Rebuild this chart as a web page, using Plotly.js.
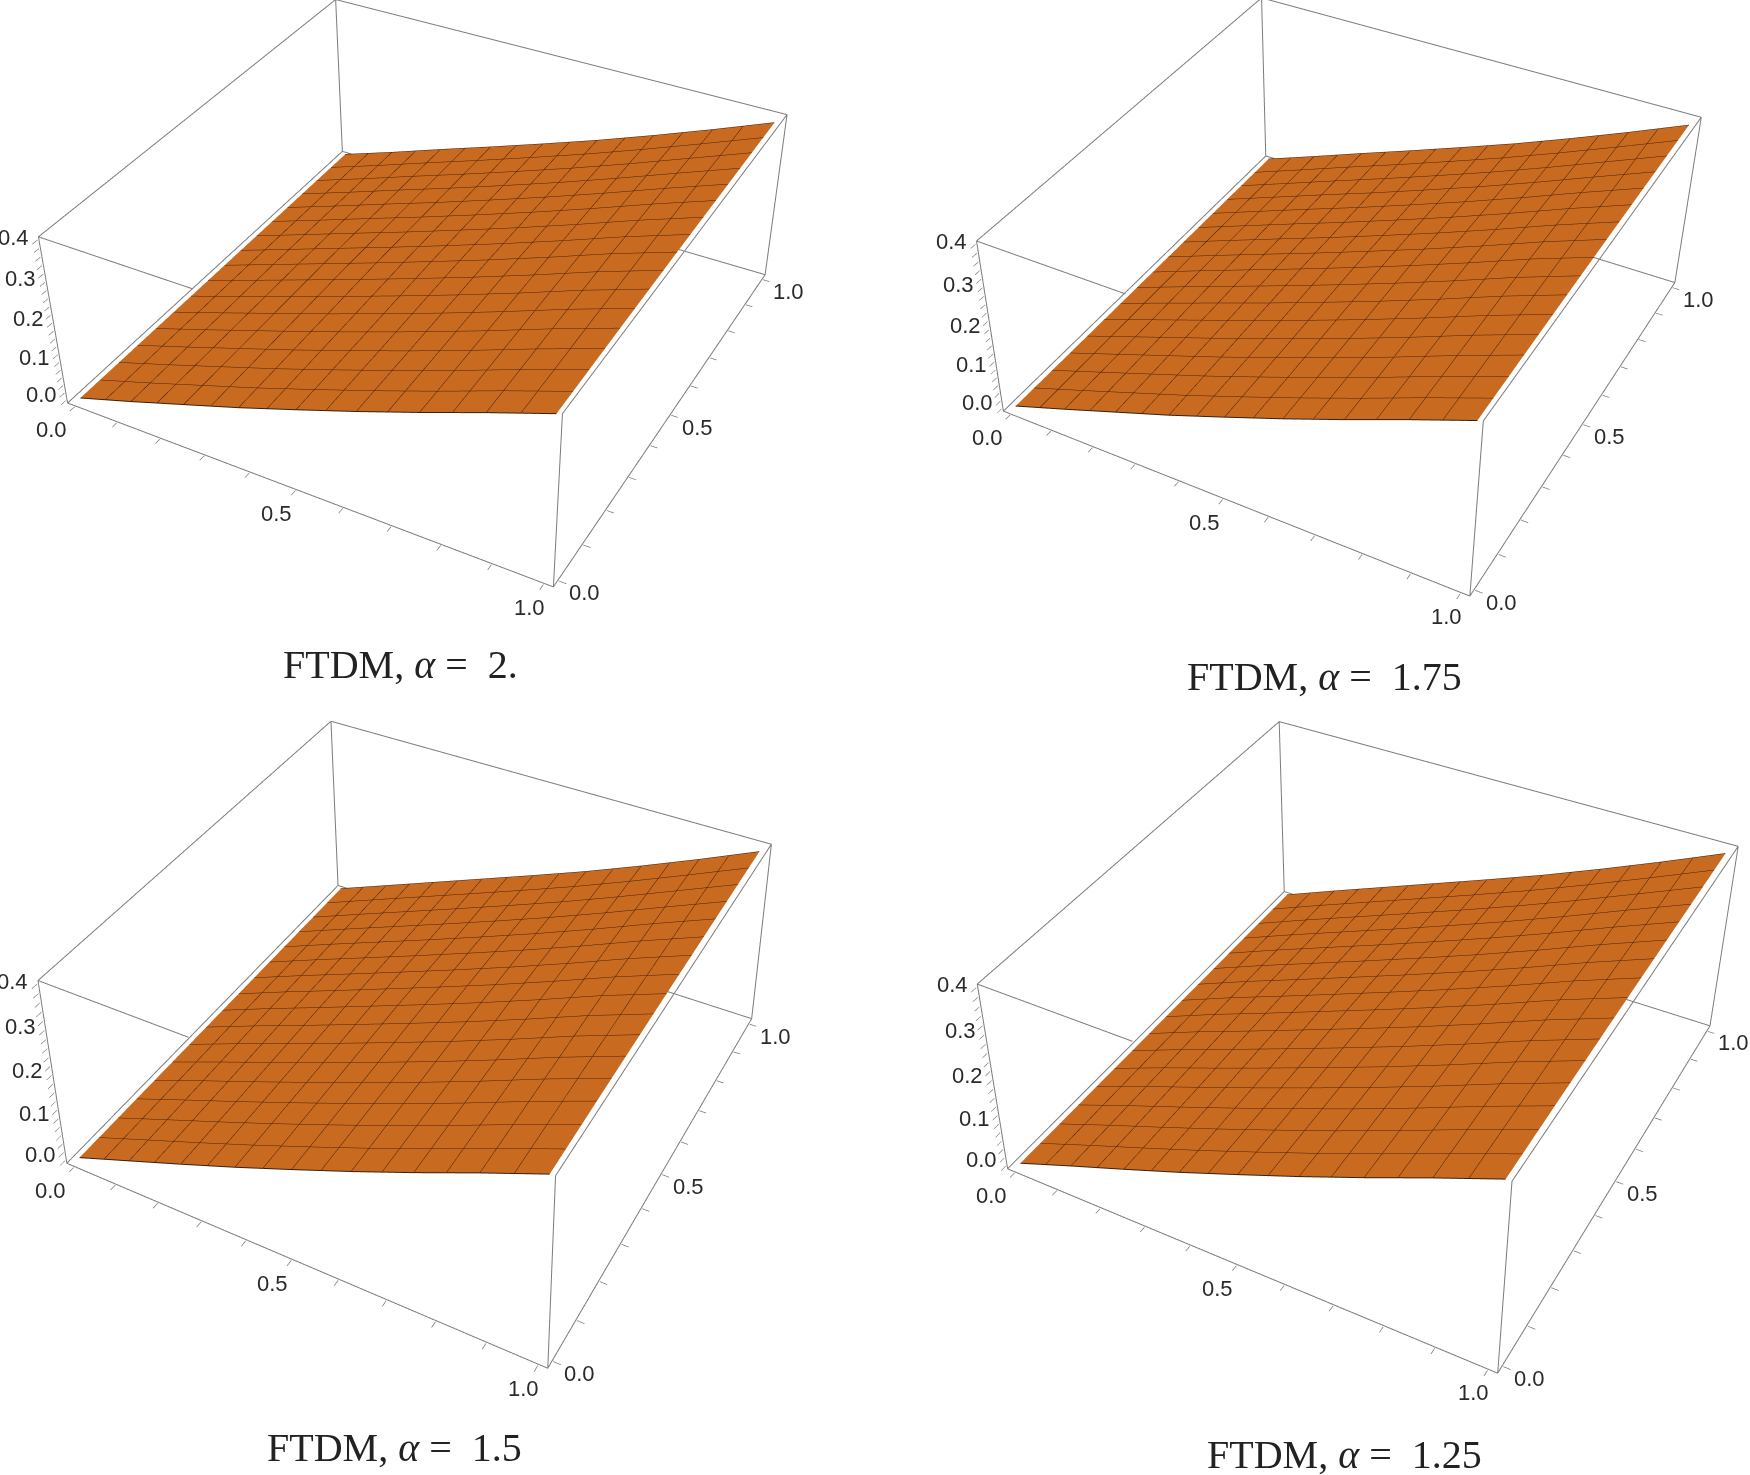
<!DOCTYPE html><html><head><script src="https://cdn.plot.ly/plotly-3.0.1.min.js"></script></head><body style="margin:0;background:#fff;height:1475px;overflow:hidden;position:relative">
<div id="g" style="position:absolute;left:0;top:-370px;width:1750px;height:2083px"></div>
<script>
const xGrid=[0,.125,.25,.375,.5,.625,.75,.875,1];
const yGrid=[0,.25,.5,.75,1];
const zAlpha200=[[0,.043,.088,.133,.181,.230,.281,.334,.385],[0,.045,.091,.137,.185,.234,.285,.338,.388],[0,.047,.094,.141,.189,.238,.289,.342,.390],[0,.046,.093,.139,.187,.236,.287,.340,.391],[0,.045,.092,.138,.185,.233,.284,.337,.392]];
const zAlpha175=[[0,.044,.089,.134,.182,.231,.282,.335,.386],[0,.046,.092,.138,.186,.235,.286,.339,.389],[0,.048,.095,.142,.190,.239,.290,.343,.391],[0,.047,.094,.140,.188,.237,.288,.341,.392],[0,.046,.093,.139,.186,.234,.285,.338,.393]];
const zAlpha150=[[0,.045,.090,.136,.184,.233,.284,.337,.388],[0,.047,.093,.140,.188,.237,.288,.341,.391],[0,.049,.096,.144,.192,.241,.292,.345,.393],[0,.048,.095,.142,.190,.239,.290,.343,.394],[0,.047,.094,.141,.188,.236,.287,.340,.395]];
const zAlpha125=[[0,.046,.091,.137,.185,.234,.285,.338,.389],[0,.048,.094,.141,.189,.238,.289,.342,.392],[0,.050,.097,.145,.193,.242,.293,.346,.394],[0,.049,.096,.143,.191,.240,.291,.344,.395],[0,.048,.095,.142,.189,.237,.288,.341,.396]];
const surfaces=[zAlpha200,zAlpha175,zAlpha150,zAlpha125];
const xyTicks=[0,.1,.2,.3,.4,.5,.6,.7,.8,.9,1];
const zTicks=[0,.02,.04,.06,.08,.1,.12,.14,.16,.18,.2,.22,.24,.26,.28,.3,.32,.34,.36,.38,.4];
const xyLabels=[0,.5,1];
const zLabels=[0,.1,.2,.3,.4];
const captions=['2.','1.75','1.5','1.25'];
const captionX=[400,1324,394,1344];
const captionY=[664,676,1447,1454];
const xRange=[-.02,1.02],yRange=[-.02,1.02],zRange=[-.008,.408];
const eyes=[[1.317,-2.388,1.93],[1.285,-2.454,2.093],[1.274,-2.302,2.209],[1.202,-2.295,2.073]];
const centers=[[.069,-.104,-.165],[-.01,-.15,-.158],[-.116,.273,.409],[-.119,-.024,.046]];
const ups=[[-.296,.553,.779],[-.312,.569,.761],[-.243,.464,.852],[-.291,.537,.792]];
const yRatios=[.996,1.013,.995,1.021];
const zRatios=[.375,.41,.442,.436];
const names=['scene','scene2','scene3','scene4'];
const sceneTop=[0,0,370,607.5];
const plotH=2083,sceneH=1475,pageTop=370;

const vec=v=>({x:v[0],y:v[1],z:v[2]});
const blank=a=>a.map(()=>'');
const axis=(ticks,range)=>({range,tickmode:'array',tickvals:ticks,ticktext:blank(ticks),showgrid:false,zeroline:false,showbackground:false,showspikes:false,showline:false,ticks:'inside',ticklen:6,tickwidth:1.5,tickcolor:'#777',title:{text:''}});
const label=(x,y,z,v,dx,dy)=>({x,y,z,text:v.toFixed(1),showarrow:false,xshift:dx,yshift:dy,font:{family:'Liberation Sans',size:22,color:'#2a2a2a'}});

// box edges sit just inside the ranges, on the range itself the clipping eats them
const x0=xRange[0]+.002,x1=xRange[1]-.002,y0=yRange[0]+.002,y1=yRange[1]-.002,z0=zRange[0]+.001,z1=zRange[1]-.001;
// the top front edge stops where the surface covers it
const cut=x0+(x1-x0)*.32;
const edges=[[x0,y0,z0,x1,y0,z0],[x1,y0,z0,x1,y1,z0],[x1,y1,z0,x0,y1,z0],[x0,y1,z0,x0,y0,z0],
 [x0,y0,z1,cut,y0,z1],[x1,y0,z1,x1,y1,z1],[x1,y1,z1,x0,y1,z1],[x0,y1,z1,x0,y0,z1],
 [x0,y0,z0,x0,y0,z1],[x1,y0,z0,x1,y0,z1],[x1,y1,z0,x1,y1,z1],[x0,y1,z0,x0,y1,z1]];

const traces=[];
const layout={width:1750,height:plotH,margin:{l:0,r:0,t:0,b:0},showlegend:false,paper_bgcolor:'rgba(0,0,0,0)',
 annotations:captions.map((c,i)=>({xref:'paper',yref:'paper',x:captionX[i]/1750,y:1-(captionY[i]+pageTop)/plotH,xanchor:'center',yanchor:'middle',text:'FTDM, <i>α</i> =  '+c,showarrow:false,font:{family:'Liberation Serif',size:40,color:'#222'}}))};
names.forEach((nm,i)=>{
 const col=i%2;
 const notes=[];
 xyLabels.forEach(v=>notes.push(label(v,yRange[0],zRange[0],v,-23+9*v,-23)));
 xyLabels.forEach(v=>notes.push(label(xRange[1],v,zRange[0],v,26,-12)));
 zLabels.forEach(v=>notes.push(label(xRange[0],yRange[0],v,v,-24,6-7.5*v)));
 layout[nm]={domain:{x:[col*.5,col*.5+.5],y:[1-(sceneTop[i]+sceneH)/plotH,1-sceneTop[i]/plotH]},aspectmode:'manual',aspectratio:{x:1,y:yRatios[i],z:zRatios[i]},
  camera:{eye:vec(eyes[i]),center:vec(centers[i]),up:vec(ups[i])},
  xaxis:axis(xyTicks,xRange),yaxis:axis(xyTicks,yRange),zaxis:axis(zTicks,zRange),annotations:notes};
 traces.push({type:'surface',scene:nm,x:xGrid,y:yGrid,z:surfaces[i],showscale:false,colorscale:[[0,'#C86A20'],[1,'#C86A20']],hoverinfo:'skip',
  lighting:{ambient:1,diffuse:0,specular:0,roughness:1,fresnel:0},
  contours:{x:{show:true,start:0,end:1,size:.0625,color:'#4a1f0a',width:4},y:{show:true,start:0,end:1,size:.0625,color:'#4a1f0a',width:4},z:{show:false}}});
 edges.forEach(e=>traces.push({type:'scatter3d',scene:nm,mode:'lines',x:[e[0],e[3]],y:[e[1],e[4]],z:[e[2],e[5]],line:{color:'#7c7c7c',width:2},hoverinfo:'skip'}));
 [0,4].forEach(r=>traces.push({type:'scatter3d',scene:nm,mode:'lines',x:xGrid,y:xGrid.map(()=>yGrid[r]),z:surfaces[i][r],line:{color:'#3a2010',width:2},hoverinfo:'skip'}));
});
Plotly.newPlot('g',traces,layout,{displayModeBar:false});
</script></body></html>
